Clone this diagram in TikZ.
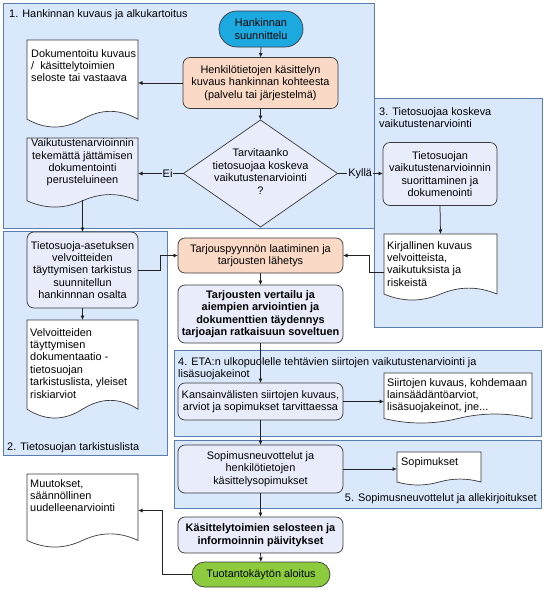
\documentclass[tikz,border=0pt]{standalone}
\usepackage{fontspec}
\setmainfont{Liberation Sans}
\usetikzlibrary{arrows.meta,shapes.geometric,calc}
\definecolor{grpfill}{HTML}{DAE8FC}
\definecolor{grpdraw}{HTML}{5A7CB0}
\definecolor{boxfill}{HTML}{E9EDFB}
\definecolor{boxdraw}{HTML}{3A3A3A}
\definecolor{peach}{HTML}{FAD9C6}
\definecolor{cyanfill}{HTML}{1BA9E0}
\definecolor{greenfill}{HTML}{8CCB3E}
\definecolor{linecol}{HTML}{222222}

% document shape with wavy bottom: name, x1, ytop, x2, ytrough, fill
\newcommand\docnode[6]{%
  \pgfmathsetmacro\dxm{(#2+#4)/2}%
  \pgfmathsetmacro\dw{#4-#2}%
  \pgfmathsetmacro\ddy{0.2*(#5-#3)}%
  \pgfmathsetmacro\dye{#5-0.45*\ddy}%
  \pgfmathsetmacro\dup{\dye-0.6*\ddy}%
  \pgfmathsetmacro\ddn{\dye+0.6*\ddy}%
  \pgfmathsetmacro\dra{#4-\dw/6}%
  \pgfmathsetmacro\drb{\dxm+\dw/6}%
  \pgfmathsetmacro\dla{\dxm-\dw/6}%
  \pgfmathsetmacro\dlb{#2+\dw/6}%
  \filldraw[docline, fill=#6] (#2,#3) -- (#4,#3) -- (#4,\dye)
    .. controls (\dra,\dup) and (\drb,\dup) .. (\dxm,\dye)
    .. controls (\dla,\ddn) and (\dlb,\ddn) .. (#2,\dye) -- cycle;
  \node[inner sep=0, outer sep=0, minimum width=\dw, minimum height={#5-#3}] (#1) at (\dxm,{(#3+#5)/2}) {};%
}
% group box: name, x1, y1, x2, y2
\newcommand\grpnode[5]{%
  \node[grp, minimum width={#4-#2}, minimum height={#5-#3}] (#1) at (#2,#3) {};%
}

\begin{document}
\begin{tikzpicture}[x=1pt,y=-1pt,
  font=\fontsize{10.9}{12.4}\selectfont,
  grp/.style={draw=grpdraw, fill=grpfill, line width=0.8pt, inner sep=0, outer sep=0, anchor=north west},
  rbox/.style={draw=boxdraw, fill=boxfill, rounded corners=7pt, align=center, inner sep=0, outer sep=0, line width=0.7pt},
  pbox/.style={rbox, fill=peach},
  bold/.style={font=\fontsize{10.9}{12.4}\selectfont\bfseries},
  docline/.style={draw=boxdraw, line width=0.7pt},
  doctext/.style={align=left, inner sep=0, anchor=north west},
  ttl/.style={align=left, inner sep=0},
  conn/.style={draw=linecol, line width=0.75pt, -{Latex[length=4.5pt,width=4pt]}},
  lbl/.style={fill=grpfill, inner sep=1pt}
]
\useasboundingbox (0,0) rectangle (545,590);

% groups
\grpnode{g1}{3}{3}{374}{228}
\grpnode{g3}{374}{98}{542}{327}
\grpnode{g2}{3}{231}{167}{455}
\grpnode{g4}{174}{350}{541}{436}
\grpnode{g5}{174}{440}{541}{508}

\node[ttl, anchor=north west] (t1) at (9,9) {1. Hankinnan kuvaus ja alkukartoitus};
\node[ttl, anchor=north west] (t3) at (379,107) {3. Tietosuojaa koskeva\\vaikutustenarviointi};
\node[ttl, anchor=base west] (t2) at (7,450) {2. Tietosuojan tarkistuslista};
\node[ttl, anchor=north west] (t4) at (178,357) {4. ETA:n ulkopuolelle tehtävien siirtojen vaikutustenarviointi ja\\lisäsuojakeinot};
\node[ttl, anchor=base east] (t5) at (537,501) {5. Sopimusneuvottelut ja allekirjoitukset};

% main column
\node[rbox, fill=cyanfill, rounded corners=18pt, minimum width=84, minimum height=36] (hs) at (261,29) {Hankinnan\\suunnittelu};
\node[pbox, minimum width=155, minimum height=51] (hk) at (260.5,83) {Henkilötietojen käsittelyn\\kuvaus hankinnan kohteesta\\(palvelu tai järjestelmä)};
\node[diamond, draw=boxdraw, fill=boxfill, line width=0.7pt, inner sep=0, outer sep=0, minimum width=154, minimum height=107] (dia) at (260.5,173.5) {};
\node[align=center, inner sep=0] (diat) at (260.5,171.5) {Tarvitaanko\\tietosuojaa koskeva\\vaikutustenarviointi\\?};

\node[pbox, minimum width=165, minimum height=35] (tarj) at (260.5,255.5) {Tarjouspyynnön laatiminen ja\\tarjousten lähetys};
\node[rbox, bold, minimum width=165, minimum height=58] (vert) at (260.5,314) {Tarjousten vertailu ja\\aiempien arviointien ja\\dokumenttien täydennys\\tarjoajan ratkaisuun soveltuen};
\node[rbox, minimum width=165, minimum height=37] (kans) at (260.5,401.5) {Kansainvälisten siirtojen kuvaus,\\arviot ja sopimukset tarvittaessa};
\node[rbox, minimum width=165, minimum height=48] (sop) at (260.5,469) {Sopimusneuvottelut ja\\henkilötietojen\\käsittelysopimukset};
\node[rbox, bold, minimum width=165, minimum height=36] (kas) at (260.5,535) {Käsittelytoimien selosteen ja\\informoinnin päivitykset};
\node[rbox, fill=greenfill, rounded corners=12.5pt, minimum width=138, minimum height=25] (tuo) at (261,574.5) {Tuotantokäytön aloitus};

% side boxes
\node[rbox, minimum width=114, minimum height=63] (dpia) at (440,174) {Tietosuojan\\vaikutustenarvioinnin\\suorittaminen ja\\dokumenointi};
\node[rbox, minimum width=111, minimum height=76] (tca) at (82.5,270) {Tietosuoja-asetuksen\\velvoitteiden\\täyttymisen tarkistus\\suunnitellun\\hankinnnan osalta};

% documents
\docnode{doc1}{27}{40}{138}{127}{white}
\node[doctext] (doc1t) at (31,49) {Dokumentoitu kuvaus\\/~ käsittelytoimien\\seloste tai vastaava};
\docnode{doc2}{27}{138}{138}{207}{boxfill}
\node[align=center, inner sep=0] (doc2t) at (82.5,162.5) {Vaikutustenarvioinnin\\tekemättä jättämisen\\dokumentointi\\perusteluineen};
\docnode{doc3}{384}{234}{497}{300}{white}
\node[doctext] (doc3t) at (387,241) {Kirjallinen kuvaus\\velvoitteista,\\vaikutuksista ja\\riskeistä};
\docnode{doc4}{27}{320}{138}{418}{white}
\node[doctext] (doc4t) at (30,328) {Velvoitteiden\\täyttymisen\\dokumentaatio -\\tietosuojan\\tarkistuslista, yleiset\\riskiarviot};
\docnode{doc5}{384}{373}{532}{423}{white}
\node[doctext] (doc5t) at (387,378) {Siirtojen kuvaus, kohdemaan\\lainsäädäntöarviot,\\lisäsuojakeinot, jne...};
\docnode{doc6}{397}{452}{481}{485}{white}
\node[doctext] (doc6t) at (401,457) {Sopimukset};
\docnode{doc7}{27}{474}{138}{547}{white}
\node[doctext] (doc7t) at (30,479) {Muutokset,\\säännöllinen\\uudelleenarviointi};

% connectors
\draw[conn] (hs.south) -- (hk.north);
\draw[conn] (hk.west) -- (hk.west -| doc1.east);
\draw[conn] (hk.south) -- (dia.north);
\draw[conn] (dia.west) -- node[lbl, pos=0.35] (ei) {Ei} (dia.west -| doc2.east);
\draw[conn] (dia.east) -- node[lbl, pos=0.5] (kylla) {Kyllä} (dia.east -| dpia.west);
\draw[conn] ([yshift=7pt]doc2.south) -- (tca.north);
\draw[conn] (dpia.south) -- (doc3.north);
\draw[conn] (tca.south) -- (doc4.north);
\draw[conn] (tca.east) -- ++(22,0) |- (tarj.west);
\draw[conn] ([yshift=-5pt]doc3.west) -- ++(-15,0) |- (tarj.east);
\draw[conn] (tarj.south) -- (vert.north);
\draw[conn] (vert.south) -- (kans.north);
\draw[conn] (kans.east) -- (kans.east -| doc5.west);
\draw[conn] (kans.south) -- (sop.north);
\draw[conn] (sop.east) -- (sop.east -| doc6.west);
\draw[conn] (sop.south) -- (kas.north);
\draw[conn] (kas.south) -- (tuo.north);
\draw[conn] (tuo.west) -- ++(-30,0) |- (doc7.east);
\end{tikzpicture}
\end{document}
